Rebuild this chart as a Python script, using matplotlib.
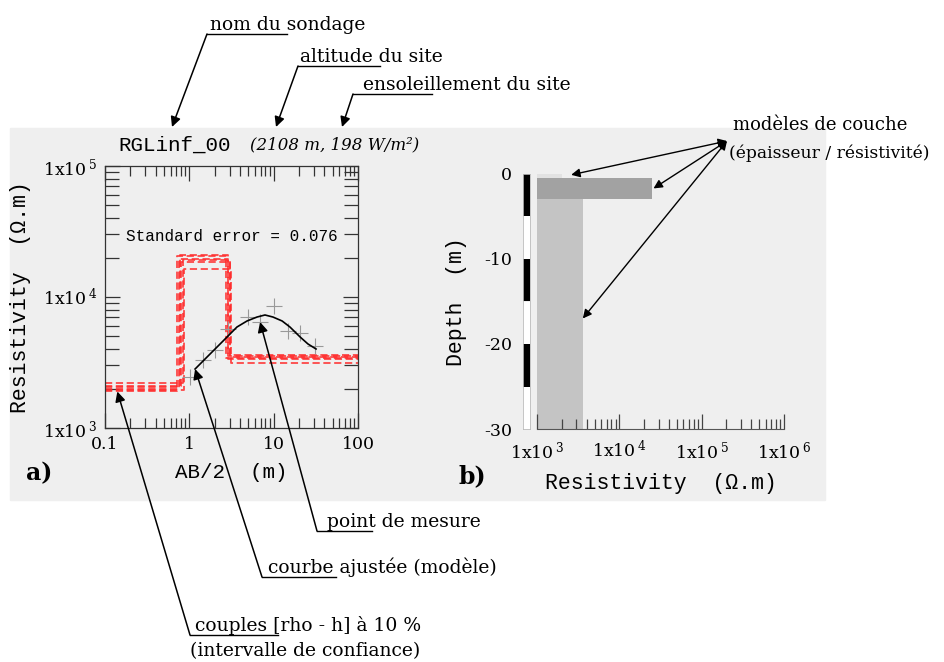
import matplotlib.pyplot as plt
from matplotlib.patches import Rectangle
from matplotlib.text import Annotation
from matplotlib.ticker import NullFormatter

plt.rcParams['mathtext.fontset'] = 'dejavuserif'

W, H = 945, 662
SERIF = 'DejaVu Serif'
MONO = 'Liberation Mono'
NOTE = 13.5

# --- sounding curve (panel a) ---
ab2_meas = [1.02, 1.46, 2.02, 2.88, 4.97, 6.9, 10.1, 14.8, 20.6, 31.0]
rho_meas = [2450, 3300, 3940, 5700, 7030, 6440, 8530, 5500, 5300, 4230]

ab2_fit = [1.17, 1.62, 2.13, 2.80, 3.67, 4.83, 6.34, 7.89, 9.82, 12.6, 15.6, 20.6, 25.5, 31.8]
rho_fit = [2820, 3480, 4150, 4950, 5900, 6560, 7030, 7290, 7030, 6560, 5900, 4950, 4380, 4010]

# equivalent 3-layer models (10 % interval)
mod_rho1 = [1900, 2000, 2050, 2100, 2200, 1950]
mod_x1 = [0.72, 0.75, 0.78, 0.80, 0.83, 0.87]
mod_rho2 = [20500, 19500, 21000, 18500, 19000, 16500]
mod_x2 = [2.75, 2.85, 2.90, 3.00, 3.05, 3.15]
mod_rho3 = [3450, 3550, 3350, 3500, 3600, 3150]

a_xticks = [0.1, 1, 10, 100]
a_xlabels = ['0.1', '1', '10', '100']
a_yticks = [1e3, 1e4, 1e5]
a_ylabels = [r'1x10$^{\,3}$', r'1x10$^{\,4}$', r'1x10$^{\,5}$']

# --- layer model (panel b) ---
layer_top = [0, -0.5, -3.0]
layer_bot = [-0.5, -3.0, -30]
layer_rho = [2000, 25000, 3600]
layer_col = ['#e2e2e2', '#a2a2a2', '#c4c4c4']

scale_top = [0, -5, -10, -15, -20, -25]
scale_bot = [-5, -10, -15, -20, -25, -30]
scale_col = ['black', 'white', 'black', 'white', 'black', 'white']

b_xticks = [1e3, 1e4, 1e5, 1e6]
b_xlabels = [r'1x10$^{\,3}$', r'1x10$^{\,4}$', r'1x10$^{\,5}$', r'1x10$^{\,6}$']
b_yticks = [0, -10, -20, -30]


def box(l, t, r, b):
    return [l / W, (H - b) / H, (r - l) / W, (b - t) / H]


def px(x, y):
    return (x, H - y)


fig = plt.figure(figsize=(W / 100, H / 100), dpi=100, facecolor='white')
fig.patches.append(Rectangle((10 / W, (H - 500) / H), 815 / W, 372 / H,
                             transform=fig.transFigure, color='#efefef', zorder=-5))

# ---------------- panel a ----------------
ax = fig.add_axes(box(105, 166, 358, 428))
ax.set_facecolor('none')
ax.set_xscale('log')
ax.set_yscale('log')
ax.set_xlim(0.1, 100)
ax.set_ylim(1e3, 1e5)

for r1, x1, r2, x2, r3 in zip(mod_rho1, mod_x1, mod_rho2, mod_x2, mod_rho3):
    ax.plot([0.1, x1, x1, x2, x2, 100], [r1, r1, r2, r2, r3, r3],
            color='#ff2a2a', lw=1.3, dashes=(4, 2), alpha=0.85)
ax.plot(ab2_meas, rho_meas, ls='none', marker='+', ms=11, mew=0.8, color='#999999')
ax.plot(ab2_fit, rho_fit, color='black', lw=1.2)

ax.set_xticks(a_xticks, a_xlabels)
ax.set_yticks(a_yticks, a_ylabels)
ax.xaxis.set_minor_formatter(NullFormatter())
ax.yaxis.set_minor_formatter(NullFormatter())
ax.tick_params(which='both', direction='in', top=True, right=True, color='#333333', width=0.9)
ax.tick_params(which='major', length=11, labelsize=12.5, pad=6)
ax.tick_params(which='minor', length=7)
ax.tick_params(axis='y', which='minor', length=10)
for lab in ax.get_xticklabels() + ax.get_yticklabels():
    lab.set_family(SERIF)
for s in ax.spines.values():
    s.set_color('#333333')
    s.set_linewidth(0.9)

ax.set_xlabel('AB/2  (m)', family=MONO, fontsize=15, labelpad=7)
ax.set_ylabel('Resistivity  (Ω.m)', family=MONO, fontsize=15.5, labelpad=8)
ax.text(0.5, 0.73, 'Standard error = 0.076', transform=ax.transAxes, ha='center',
        va='center', family=MONO, fontsize=11.5)

fig.text(118 / W, (H - 145) / H, 'RGLinf_00', family=MONO, fontsize=15, va='center')
fig.text(250 / W, (H - 145) / H, '(2108 m, 198 W/m²)', family=SERIF, style='italic',
         fontsize=12, va='center')
fig.text(39 / W, (H - 473) / H, 'a)', family=SERIF, fontsize=17, weight='bold',
         ha='center', va='center')

# ---------------- panel b ----------------
axb = fig.add_axes(box(537, 174, 784, 429))
axb.set_facecolor('none')
axb.set_xscale('log')
axb.set_xlim(1e3, 1e6)
axb.set_ylim(-30, 0)
for t, b, r, c in zip(layer_top, layer_bot, layer_rho, layer_col):
    axb.barh(t, r - 1e3, left=1e3, height=b - t, align='edge', color=c, lw=0)
axb.set_xticks(b_xticks, b_xlabels)
axb.xaxis.set_minor_formatter(NullFormatter())
axb.set_yticks([])
for side in ['top', 'right', 'left']:
    axb.spines[side].set_visible(False)
axb.spines['bottom'].set_color('#555555')
axb.tick_params(which='both', direction='in', color='#444444', width=0.9)
axb.tick_params(which='major', length=11, labelsize=12.5, pad=8)
axb.tick_params(which='minor', length=7)
for lab in axb.get_xticklabels():
    lab.set_family(SERIF)
axb.set_xlabel('Resistivity  (Ω.m)', family=MONO, fontsize=15.5, labelpad=8)

axs = fig.add_axes(box(523, 174, 530, 429))
axs.set_facecolor('none')
axs.bar([0] * len(scale_top), [b - t for t, b in zip(scale_top, scale_bot)],
        bottom=scale_top, width=1, color=scale_col, lw=0)
axs.set_xlim(-0.5, 0.5)
axs.set_ylim(-30, 0)
axs.set_xticks([])
axs.set_yticks(b_yticks, [str(v) for v in b_yticks])
axs.tick_params(axis='y', length=0, labelsize=12.5, pad=8)
for lab in axs.get_yticklabels():
    lab.set_family(SERIF)
for s in axs.spines.values():
    s.set_color('#bbbbbb')
    s.set_linewidth(0.6)
axs.set_ylabel('Depth  (m)', family=MONO, fontsize=15.5, labelpad=12)

fig.text(472 / W, (H - 476) / H, 'b)', family=SERIF, fontsize=17, weight='bold',
         ha='center', va='center')

# ---------------- annotations ----------------
ov = fig.add_axes([0, 0, 1, 1], zorder=5)
ov.set_xlim(0, W)
ov.set_ylim(H, 0)
ov.axis('off')

arrow = dict(arrowstyle='-|>', color='black', lw=1.1, mutation_scale=15, shrinkA=0, shrinkB=0)


def label(x, y, text, ul, corner, tip, tip_coords):
    # text with underlined first word, connector from corner to tip
    fig.text(x / W, (H - y) / H, text, family=SERIF, fontsize=NOTE, va='baseline')
    ov.plot([ul[0], ul[1]], [ul[2], ul[2]], color='black', lw=1.0)
    fig.add_artist(Annotation('', xy=tip, xycoords=tip_coords, xytext=px(*corner),
                              textcoords='figure pixels', arrowprops=arrow))


label(210, 30, 'nom du sondage', (207, 287, 34), (207, 34), px(172, 127), 'figure pixels')
label(300, 62, 'altitude du site', (298, 380, 66), (298, 66), px(276, 127), 'figure pixels')
label(363, 90, 'ensoleillement du site', (353, 432, 94), (353, 94), px(342, 127), 'figure pixels')

label(327, 527, 'point de mesure', (317, 372, 531), (317, 531), (6.9, 6440), ax.transData)
label(268, 573, 'courbe ajustée (modèle)', (262, 336, 577), (262, 577), (1.17, 2820), ax.transData)
label(195, 631, 'couples [rho - h] à 10 %', (190, 278, 635), (190, 635), (0.14, 1900), ax.transData)
fig.text(190 / W, (H - 656) / H, '(intervalle de confiance)', family=SERIF, fontsize=NOTE,
         va='baseline')

fig.text(733 / W, (H - 130) / H, 'modèles de couche', family=SERIF, fontsize=13, va='baseline')
fig.text(729 / W, (H - 158) / H, '(épaisseur / résistivité)', family=SERIF, fontsize=12.3,
         va='baseline')
for tip in [(2600, -0.1), (26000, -1.7), (3600, -17.0)]:
    fig.add_artist(Annotation('', xy=tip, xycoords=axb.transData, xytext=px(727, 141),
                              textcoords='figure pixels',
                              arrowprops=dict(arrowstyle='<|-|>', color='black', lw=1.0,
                                              mutation_scale=13, shrinkA=0, shrinkB=0)))

fig.savefig('out.png', dpi=100)
